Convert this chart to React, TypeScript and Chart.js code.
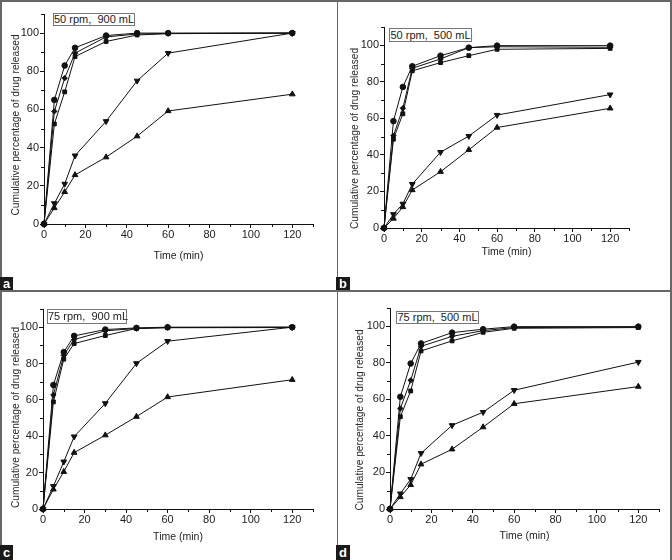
import React, { useEffect, useRef } from "react";
import { Chart, registerables } from "chart.js";

Chart.register(...registerables);

const TIME = [0, 5, 10, 15, 30, 45, 60, 120];

const A_CIRCLE = [0, 65, 83, 92.3, 98.7, 100, 100, 100];
const A_DIAMOND = [0, 59, 76.4, 89.5, 98, 99.5, 99.8, 100];
const A_SQUARE = [0, 52.4, 69.2, 87.7, 95.6, 99, 99.7, 100];
const A_DOWN = [0, 10.8, 21, 35.8, 53.8, 75, 89.5, 100];
const A_UP = [0, 8.4, 16.8, 25.7, 35, 46, 59.2, 68];

const B_CIRCLE = [0, 58.5, 77.2, 88.5, 94.3, 98.7, 99.8, 99.8];
const B_DIAMOND = [0, 50.5, 65.5, 87.4, 92.5, 98.7, 99.2, 98.9];
const B_SQUARE = [0, 48.6, 62.5, 86, 90.5, 94.3, 97.8, 98.3];
const B_DOWN = [0, 7.5, 13.2, 24, 41.5, 50.3, 61.8, 73];
const B_UP = [0, 5.2, 11.5, 20.8, 30.8, 42.8, 55, 65.5];

const C_CIRCLE = [0, 68.2, 86.3, 95.2, 98.7, 99.6, 100, 100];
const C_DIAMOND = [0, 62.7, 84.5, 93.2, 98, 99.3, 99.8, 100];
const C_SQUARE = [0, 58.9, 82.4, 91, 95.4, 99.3, 99.7, 99.8];
const C_DOWN = [0, 12.5, 26, 39.8, 58.1, 80.1, 92.3, 100];
const C_UP = [0, 10.8, 20.5, 31, 40.6, 50.8, 61.6, 71.1];

const D_CIRCLE = [0, 61.4, 79.6, 90.6, 96.5, 98.4, 99.8, 99.8];
const D_DIAMOND = [0, 55, 70.4, 89, 94.5, 97.6, 99.3, 99.5];
const D_SQUARE = [0, 50.5, 64.6, 86.5, 92, 96.7, 98.9, 99.3];
const D_DOWN = [0, 8.4, 16.3, 30.5, 45.8, 53, 65, 80.4];
const D_UP = [0, 6.6, 13.2, 24.5, 32.7, 44.8, 57.6, 67];

const CONDITIONS = ["50 rpm,  900 mL", "50 rpm,  500 mL", "75 rpm,  900 mL", "75 rpm,  500 mL"];
const PANEL_LETTERS = ["a", "b", "c", "d"];
const X_TITLE = "Time (min)";
const Y_TITLE = "Cumulative percentage of drug released";
const X_MAX = 130;
const Y_MAX = 110;

const SERIES = [
  [A_CIRCLE, A_DIAMOND, A_SQUARE, A_DOWN, A_UP],
  [B_CIRCLE, B_DIAMOND, B_SQUARE, B_DOWN, B_UP],
  [C_CIRCLE, C_DIAMOND, C_SQUARE, C_DOWN, C_UP],
  [D_CIRCLE, D_DIAMOND, D_SQUARE, D_DOWN, D_UP],
];

const MARKERS: any[] = [
  { style: "circle", r: 2.8, rot: 0 },
  { style: "rectRot", r: 2.7, rot: 0 },
  { style: "rect", r: 2.7, rot: 0 },
  { style: "triangle", r: 3.3, rot: 180 },
  { style: "triangle", r: 3.3, rot: 0 },
];

// layout (canvas rect, chart area within canvas, title positions, annotation box, letter box)
const PANELS = [
  { x: 0, y: 0, w: 337, h: 290, area: { l: 44, r: 313, t: 14, b: 224 }, xt: 256, yt: 16, yc: 125,
    box: { l: 53, t: 13, w: 82, h: 13 }, letter: { l: 0, t: 277, w: 13, h: 13 } },
  { x: 337, y: 0, w: 335, h: 290, area: { l: 47, r: 292, t: 27, b: 228 }, xt: 252, yt: 18, yc: 138.5,
    box: { l: 389, t: 28, w: 83, h: 14 }, letter: { l: 336, t: 277, w: 14, h: 13 } },
  { x: 0, y: 290, w: 337, h: 270, area: { l: 43, r: 313, t: 19, b: 219 }, xt: 247, yt: 16, yc: 127.5,
    box: { l: 47, t: 309, w: 80, h: 15 }, letter: { l: 0, t: 545, w: 13, h: 15 } },
  { x: 337, y: 290, w: 335, h: 270, area: { l: 53, r: 322, t: 18, b: 219 }, xt: 246, yt: 23, yc: 130,
    box: { l: 396, t: 311, w: 83, h: 13 }, letter: { l: 336, t: 545, w: 14, h: 15 } },
];

const FONT = '"Liberation Sans", Arial, Helvetica, sans-serif';

const minorTicks = {
  id: "minorTicks",
  afterDraw(chart: any) {
    const ctx = chart.ctx;
    const area = chart.chartArea;
    ctx.save();
    ctx.strokeStyle = "#111";
    ctx.lineWidth = 1;
    const xs = chart.scales.x;
    xs.ticks.forEach((t: any) => {
      if (t.value % 20 !== 0 || t.value > 120) {
        const px = Math.round(xs.getPixelForValue(t.value)) + 0.5;
        ctx.beginPath();
        ctx.moveTo(px, area.bottom);
        ctx.lineTo(px, area.bottom + 3);
        ctx.stroke();
      }
    });
    const ys = chart.scales.y;
    ys.ticks.forEach((t: any) => {
      if (t.value % 20 !== 0 || t.value > 100) {
        const py = Math.round(ys.getPixelForValue(t.value)) + 0.5;
        ctx.beginPath();
        ctx.moveTo(area.left - 3, py);
        ctx.lineTo(area.left, py);
        ctx.stroke();
      }
    });
    ctx.restore();
  },
};

const yTitlePlugin = {
  id: "yTitle",
  afterDraw(chart: any, _args: any, opts: any) {
    const ctx = chart.ctx;
    ctx.save();
    ctx.translate(opts.x, opts.y);
    ctx.rotate(-Math.PI / 2);
    ctx.font = `10.2px ${FONT}`;
    ctx.fillStyle = "#2a2a2a";
    ctx.textAlign = "center";
    ctx.textBaseline = "middle";
    ctx.fillText(opts.text, 0, 0);
    ctx.restore();
  },
};

function makeConfig(pi: number): any {
  const p = PANELS[pi];
  const fontTick = { family: FONT, size: 11 };
  const fontTitle = { family: FONT, size: 10.5 };
  const lh = 10.5 * 1.2;
  const datasets = SERIES[pi].map((vals, si) => ({
    data: TIME.map((t, i) => ({ x: t, y: vals[i] })),
    borderColor: "#111",
    borderWidth: 1,
    backgroundColor: "#111",
    pointStyle: MARKERS[si].style,
    pointRadius: MARKERS[si].r,
    pointRotation: MARKERS[si].rot,
    pointBackgroundColor: "#111",
    pointBorderColor: "#111",
    pointBorderWidth: 1,
    tension: 0,
    clip: false,
  }));
  return {
    type: "line",
    data: { datasets },
    plugins: [minorTicks, yTitlePlugin],
    options: {
      animation: false,
      responsive: false,
      maintainAspectRatio: false,
      events: [],
      layout: { padding: { left: 0, top: p.area.t, right: p.w - p.area.r, bottom: 0 } },
      plugins: {
        legend: { display: false },
        tooltip: { enabled: false },
        yTitle: { text: Y_TITLE, x: p.yt, y: p.yc },
      },
      scales: {
        x: {
          type: "linear",
          min: 0,
          max: X_MAX,
          border: { display: true, color: "#111", width: 1 },
          grid: {
            drawOnChartArea: false,
            drawTicks: true,
            tickLength: 4,
            tickColor: (c: any) => (c.tick && c.tick.value % 20 === 0 && c.tick.value <= 120 ? "#111" : "rgba(0,0,0,0)"),
          },
          ticks: {
            stepSize: 10,
            autoSkip: false,
            maxRotation: 0,
            padding: 0,
            color: "#222",
            font: fontTick,
            callback: (v: any) => (v % 20 === 0 && v <= 120 ? String(v) : ""),
          },
          title: {
            display: true,
            text: X_TITLE,
            color: "#222",
            font: fontTitle,
            padding: { top: 0, bottom: p.h - p.xt - lh / 2 },
          },
          afterFit: (s: any) => {
            s.height = p.h - p.area.b;
          },
        },
        y: {
          type: "linear",
          min: 0,
          max: Y_MAX,
          border: { display: true, color: "#111", width: 1 },
          grid: {
            drawOnChartArea: false,
            drawTicks: true,
            tickLength: 4,
            tickColor: (c: any) => (c.tick && c.tick.value % 20 === 0 && c.tick.value <= 100 ? "#111" : "rgba(0,0,0,0)"),
          },
          ticks: {
            stepSize: 10,
            autoSkip: false,
            padding: 1,
            color: "#222",
            font: fontTick,
            callback: (v: any) => (v % 20 === 0 && v <= 100 ? String(v) : ""),
          },
          title: { display: false },
          afterFit: (s: any) => {
            s.width = p.area.l;
          },
        },
      },
    },
  };
}

function Panel({ index }: { index: number }) {
  const ref = useRef<HTMLCanvasElement | null>(null);
  const p = PANELS[index];
  useEffect(() => {
    if (!ref.current) return;
    const chart = new Chart(ref.current, makeConfig(index));
    return () => chart.destroy();
  }, [index]);
  return (
    <div style={{ position: "absolute", left: p.x, top: p.y, width: p.w, height: p.h }}>
      <canvas ref={ref} width={p.w} height={p.h} style={{ display: "block", width: p.w, height: p.h }} />
    </div>
  );
}

export default function App() {
  return (
    <div
      style={{
        position: "fixed",
        left: 0,
        top: 0,
        width: 672,
        height: 560,
        background: "#fff",
        overflow: "hidden",
        fontFamily: FONT,
      }}
    >
      {PANELS.map((_, i) => (
        <Panel key={i} index={i} />
      ))}
      {/* frame lines */}
      <div style={{ position: "absolute", left: 0, top: 0, width: 672, height: 1.5, background: "#666" }} />
      <div style={{ position: "absolute", left: 0, top: 0, width: 1.5, height: 560, background: "#666" }} />
      <div style={{ position: "absolute", left: 670, top: 0, width: 2, height: 560, background: "#666" }} />
      <div style={{ position: "absolute", left: 0, top: 290, width: 672, height: 1.5, background: "#666" }} />
      <div style={{ position: "absolute", left: 336.5, top: 0, width: 1.5, height: 560, background: "#666" }} />
      {PANELS.map((p, i) => (
        <div
          key={"box" + i}
          style={{
            position: "absolute",
            left: p.box.l,
            top: p.box.t,
            width: p.box.w,
            height: p.box.h,
            boxSizing: "border-box",
            border: "1px solid #777",
            background: "#fff",
            fontSize: 11,
            lineHeight: p.box.h - 2 + "px",
            color: "#222",
            textAlign: "center",
            whiteSpace: "pre",
          }}
        >
          {CONDITIONS[i]}
        </div>
      ))}
      {PANELS.map((p, i) => (
        <div
          key={"letter" + i}
          style={{
            position: "absolute",
            left: p.letter.l,
            top: p.letter.t,
            width: p.letter.w,
            height: p.letter.h,
            background: "#1a1a1a",
            color: "#fff",
            fontSize: 13,
            fontWeight: "bold",
            lineHeight: p.letter.h + "px",
            textAlign: "center",
          }}
        >
          {PANEL_LETTERS[i]}
        </div>
      ))}
    </div>
  );
}
